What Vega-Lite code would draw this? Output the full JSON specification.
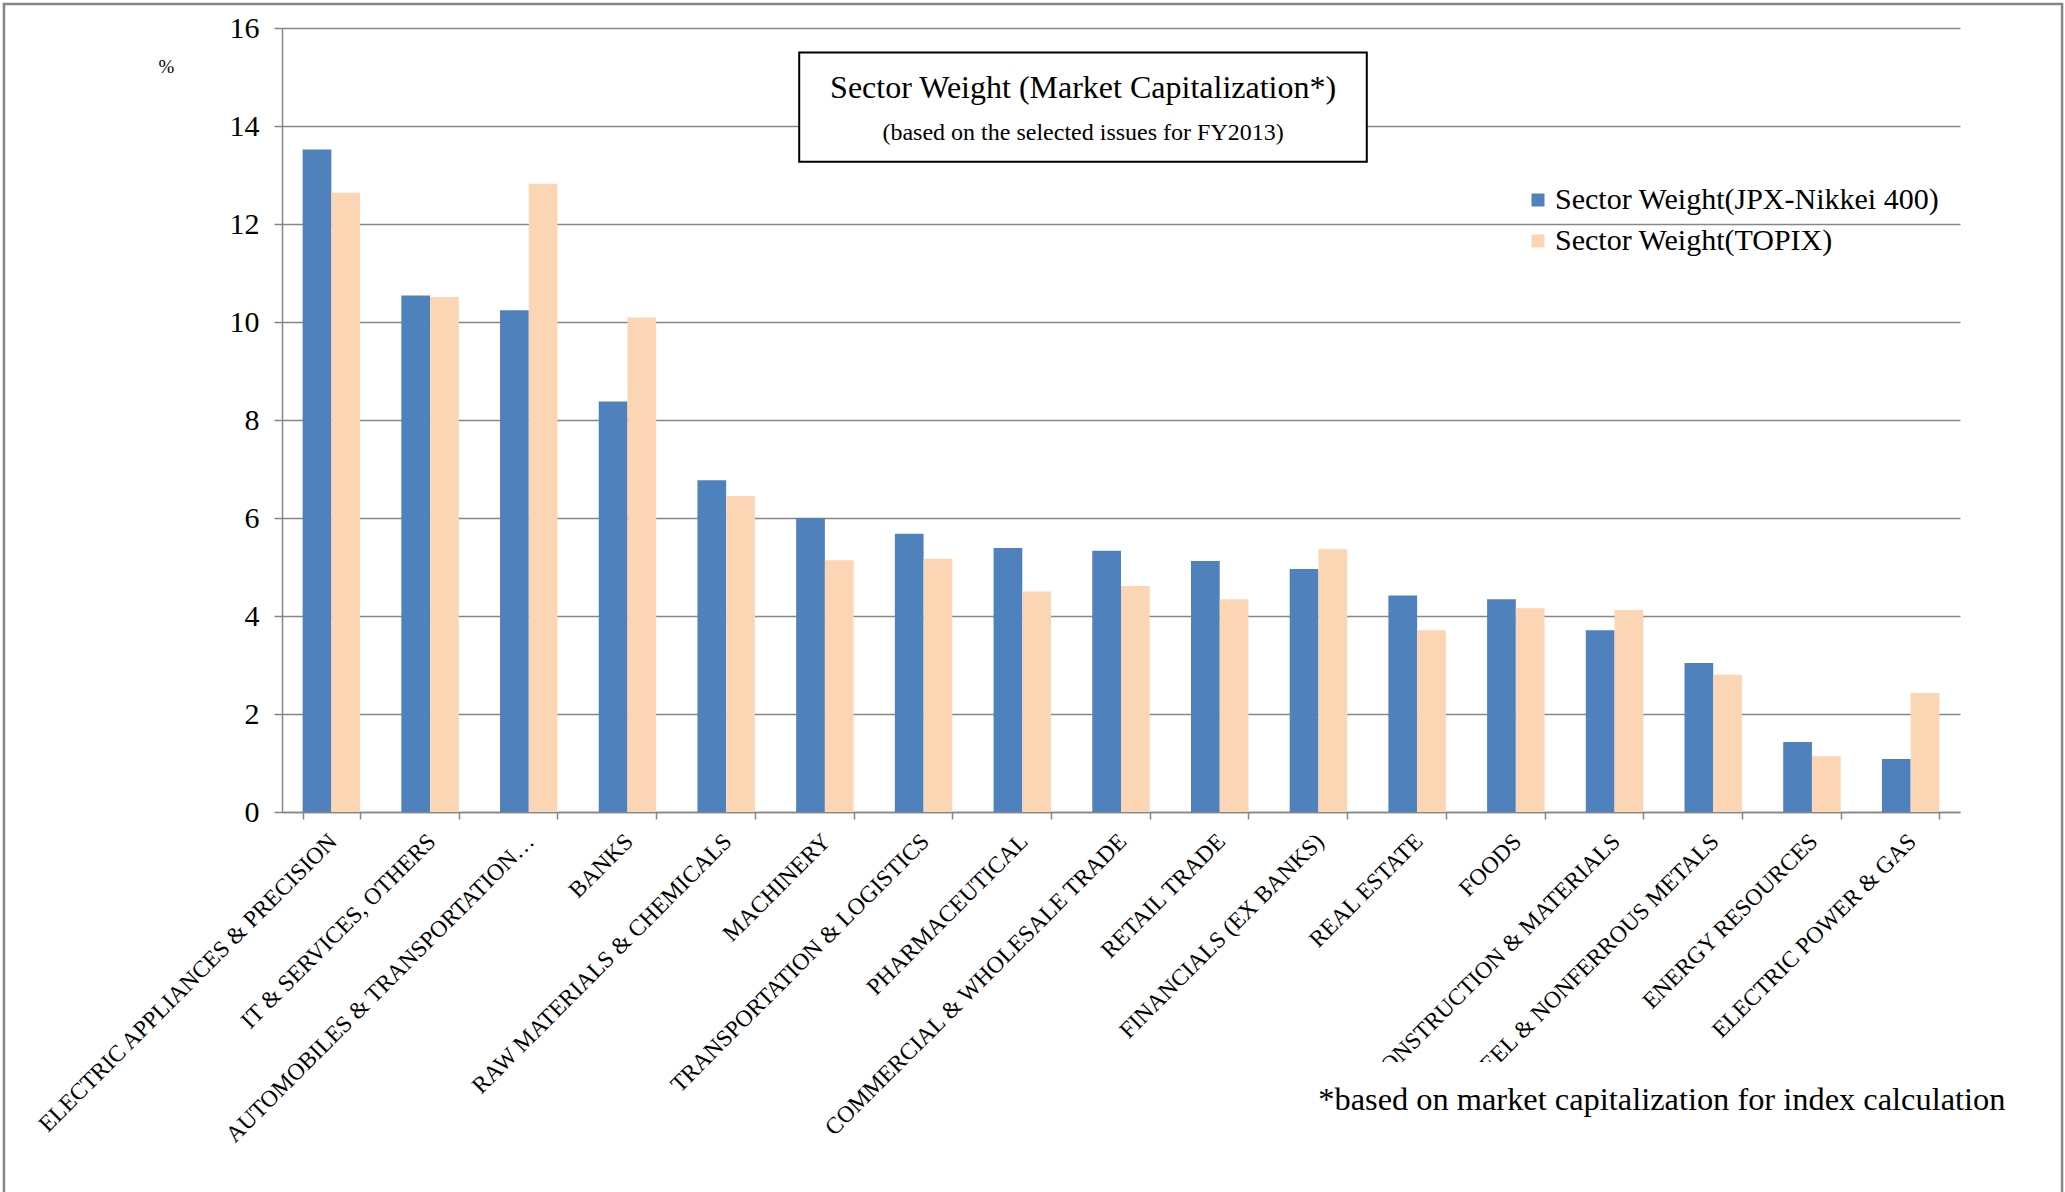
{
  "$schema": "https://vega.github.io/schema/vega-lite/v6.json",
  "width": 1678,
  "height": 784,
  "autosize": {"type": "none"},
  "padding": {"left": 282, "top": 28, "right": 105, "bottom": 380},
  "background": "white",
  "config": {
    "view": {"stroke": null},
    "font": "Liberation Serif",
    "axis": {"labelFont": "Liberation Serif", "titleFont": "Liberation Serif"},
    "legend": {"labelFont": "Liberation Serif", "titleFont": "Liberation Serif"},
    "text": {"font": "Liberation Serif"}
  },
  "datasets": {
    "sectors": [
      {"sector": "ELECTRIC APPLIANCES & PRECISION", "series": "Sector Weight(JPX-Nikkei 400)", "weight": 13.52},
      {"sector": "ELECTRIC APPLIANCES & PRECISION", "series": "Sector Weight(TOPIX)", "weight": 12.64},
      {"sector": "IT & SERVICES, OTHERS", "series": "Sector Weight(JPX-Nikkei 400)", "weight": 10.54},
      {"sector": "IT & SERVICES, OTHERS", "series": "Sector Weight(TOPIX)", "weight": 10.51},
      {"sector": "AUTOMOBILES & TRANSPORTATION…", "series": "Sector Weight(JPX-Nikkei 400)", "weight": 10.24},
      {"sector": "AUTOMOBILES & TRANSPORTATION…", "series": "Sector Weight(TOPIX)", "weight": 12.82},
      {"sector": "BANKS", "series": "Sector Weight(JPX-Nikkei 400)", "weight": 8.38},
      {"sector": "BANKS", "series": "Sector Weight(TOPIX)", "weight": 10.09},
      {"sector": "RAW MATERIALS & CHEMICALS", "series": "Sector Weight(JPX-Nikkei 400)", "weight": 6.77},
      {"sector": "RAW MATERIALS & CHEMICALS", "series": "Sector Weight(TOPIX)", "weight": 6.45},
      {"sector": "MACHINERY", "series": "Sector Weight(JPX-Nikkei 400)", "weight": 6.0},
      {"sector": "MACHINERY", "series": "Sector Weight(TOPIX)", "weight": 5.14},
      {"sector": "TRANSPORTATION & LOGISTICS", "series": "Sector Weight(JPX-Nikkei 400)", "weight": 5.68},
      {"sector": "TRANSPORTATION & LOGISTICS", "series": "Sector Weight(TOPIX)", "weight": 5.17},
      {"sector": "PHARMACEUTICAL", "series": "Sector Weight(JPX-Nikkei 400)", "weight": 5.39},
      {"sector": "PHARMACEUTICAL", "series": "Sector Weight(TOPIX)", "weight": 4.5},
      {"sector": "COMMERCIAL & WHOLESALE TRADE", "series": "Sector Weight(JPX-Nikkei 400)", "weight": 5.33},
      {"sector": "COMMERCIAL & WHOLESALE TRADE", "series": "Sector Weight(TOPIX)", "weight": 4.61},
      {"sector": "RETAIL TRADE", "series": "Sector Weight(JPX-Nikkei 400)", "weight": 5.12},
      {"sector": "RETAIL TRADE", "series": "Sector Weight(TOPIX)", "weight": 4.34},
      {"sector": "FINANCIALS (EX BANKS)", "series": "Sector Weight(JPX-Nikkei 400)", "weight": 4.96},
      {"sector": "FINANCIALS (EX BANKS)", "series": "Sector Weight(TOPIX)", "weight": 5.36},
      {"sector": "REAL ESTATE", "series": "Sector Weight(JPX-Nikkei 400)", "weight": 4.42},
      {"sector": "REAL ESTATE", "series": "Sector Weight(TOPIX)", "weight": 3.71},
      {"sector": "FOODS", "series": "Sector Weight(JPX-Nikkei 400)", "weight": 4.34},
      {"sector": "FOODS", "series": "Sector Weight(TOPIX)", "weight": 4.16},
      {"sector": "CONSTRUCTION & MATERIALS", "series": "Sector Weight(JPX-Nikkei 400)", "weight": 3.71},
      {"sector": "CONSTRUCTION & MATERIALS", "series": "Sector Weight(TOPIX)", "weight": 4.12},
      {"sector": "STEEL & NONFERROUS METALS", "series": "Sector Weight(JPX-Nikkei 400)", "weight": 3.04},
      {"sector": "STEEL & NONFERROUS METALS", "series": "Sector Weight(TOPIX)", "weight": 2.8},
      {"sector": "ENERGY RESOURCES", "series": "Sector Weight(JPX-Nikkei 400)", "weight": 1.43},
      {"sector": "ENERGY RESOURCES", "series": "Sector Weight(TOPIX)", "weight": 1.14},
      {"sector": "ELECTRIC POWER & GAS", "series": "Sector Weight(JPX-Nikkei 400)", "weight": 1.08},
      {"sector": "ELECTRIC POWER & GAS", "series": "Sector Weight(TOPIX)", "weight": 2.43}
    ]
  },
  "layer": [
    {
      "data": {"name": "sectors"},
      "mark": {"type": "bar"},
      "encoding": {
        "x": {
          "field": "sector", "type": "nominal", "sort": null,
          "scale": {"paddingInner": 0.418, "paddingOuter": 0.209},
          "axis": {
            "title": null, "labelAngle": -45, "labelFontSize": 23.5, "labelColor": "black",
            "labelPadding": 10, "labelOffset": -7, "labelLimit": 0, "labelOverlap": false,
            "tickBand": "extent", "tickSize": 7, "tickColor": "#868686", "tickWidth": 1.5,
            "domainColor": "#868686", "domainWidth": 1.5, "grid": false
          }
        },
        "y": {
          "field": "weight", "type": "quantitative",
          "scale": {"domain": [0, 16], "nice": false},
          "axis": {
            "title": "%", "titleAngle": 0, "titleX": -116, "titleY": 38, "titleAlign": "center",
            "titleBaseline": "middle", "titleFontSize": 19, "titleFontWeight": "normal", "titleColor": "black",
            "values": [0, 2, 4, 6, 8, 10, 12, 14, 16],
            "labelFontSize": 30, "labelColor": "black", "labelPadding": 15,
            "tickSize": 8, "tickColor": "#868686", "tickWidth": 1.5,
            "domainColor": "#868686", "domainWidth": 1.5,
            "grid": true, "gridColor": "#868686", "gridWidth": 1.5
          }
        },
        "xOffset": {"field": "series", "type": "nominal", "sort": null},
        "color": {
          "field": "series", "type": "nominal",
          "scale": {"domain": ["Sector Weight(JPX-Nikkei 400)", "Sector Weight(TOPIX)"], "range": ["#4F81BD", "#FCD5B5"]},
          "legend": {
            "title": null, "orient": "none", "legendX": 1241, "legendY": 157,
            "symbolType": "square", "symbolSize": 169, "symbolStrokeWidth": 0,
            "labelFontSize": 30, "labelColor": "black", "labelOffset": 2, "rowPadding": 11, "labelLimit": 0
          }
        }
      }
    },
    {
      "data": {"values": [{}]},
      "mark": {"type": "rect", "fill": "white", "stroke": "black", "strokeWidth": 2},
      "encoding": {
        "x": {"datum": 5.24, "type": "quantitative", "scale": {"domain": [0, 17], "nice": false, "zero": false}, "axis": null},
        "x2": {"datum": 10.99},
        "y": {"datum": 15.5, "type": "quantitative"},
        "y2": {"datum": 13.27}
      }
    },
    {
      "data": {"values": [{"label": "Sector Weight (Market Capitalization*)"}]},
      "mark": {"type": "text", "fontSize": 32, "align": "center", "baseline": "middle", "color": "black"},
      "encoding": {
        "x": {"datum": 8.116, "type": "quantitative", "scale": {"domain": [0, 17], "nice": false, "zero": false}, "axis": null},
        "y": {"datum": 14.78, "type": "quantitative"},
        "text": {"field": "label"}
      }
    },
    {
      "data": {"values": [{"label": "(based on the selected issues for FY2013)"}]},
      "mark": {"type": "text", "fontSize": 24, "align": "center", "baseline": "middle", "color": "black"},
      "encoding": {
        "x": {"datum": 8.116, "type": "quantitative", "scale": {"domain": [0, 17], "nice": false, "zero": false}, "axis": null},
        "y": {"datum": 13.86, "type": "quantitative"},
        "text": {"field": "label"}
      }
    },
    {
      "data": {"values": [{}]},
      "mark": {"type": "rect", "fill": "white", "stroke": null},
      "encoding": {
        "x": {"datum": 10.31, "type": "quantitative", "scale": {"domain": [0, 17], "nice": false, "zero": false}, "axis": null},
        "x2": {"datum": 17.96},
        "y": {"datum": -5.1, "type": "quantitative"},
        "y2": {"datum": -7.95}
      }
    },
    {
      "data": {"values": [{"label": "*based on market capitalization for index calculation"}]},
      "mark": {"type": "text", "fontSize": 32.4, "align": "right", "baseline": "middle", "color": "black"},
      "encoding": {
        "x": {"datum": 17.46, "type": "quantitative", "scale": {"domain": [0, 17], "nice": false, "zero": false}, "axis": null},
        "y": {"datum": -5.88, "type": "quantitative"},
        "text": {"field": "label"}
      }
    },
    {
      "data": {"values": [{}]},
      "mark": {"type": "rect", "fill": null, "stroke": "#868686", "strokeWidth": 2.5},
      "encoding": {
        "x": {"datum": -2.817, "type": "quantitative", "scale": {"domain": [0, 17], "nice": false, "zero": false}, "axis": null},
        "x2": {"datum": 18.034},
        "y": {"datum": 16.49, "type": "quantitative"},
        "y2": {"datum": -7.95}
      }
    }
  ],
  "resolve": {"scale": {"x": "independent"}}
}
